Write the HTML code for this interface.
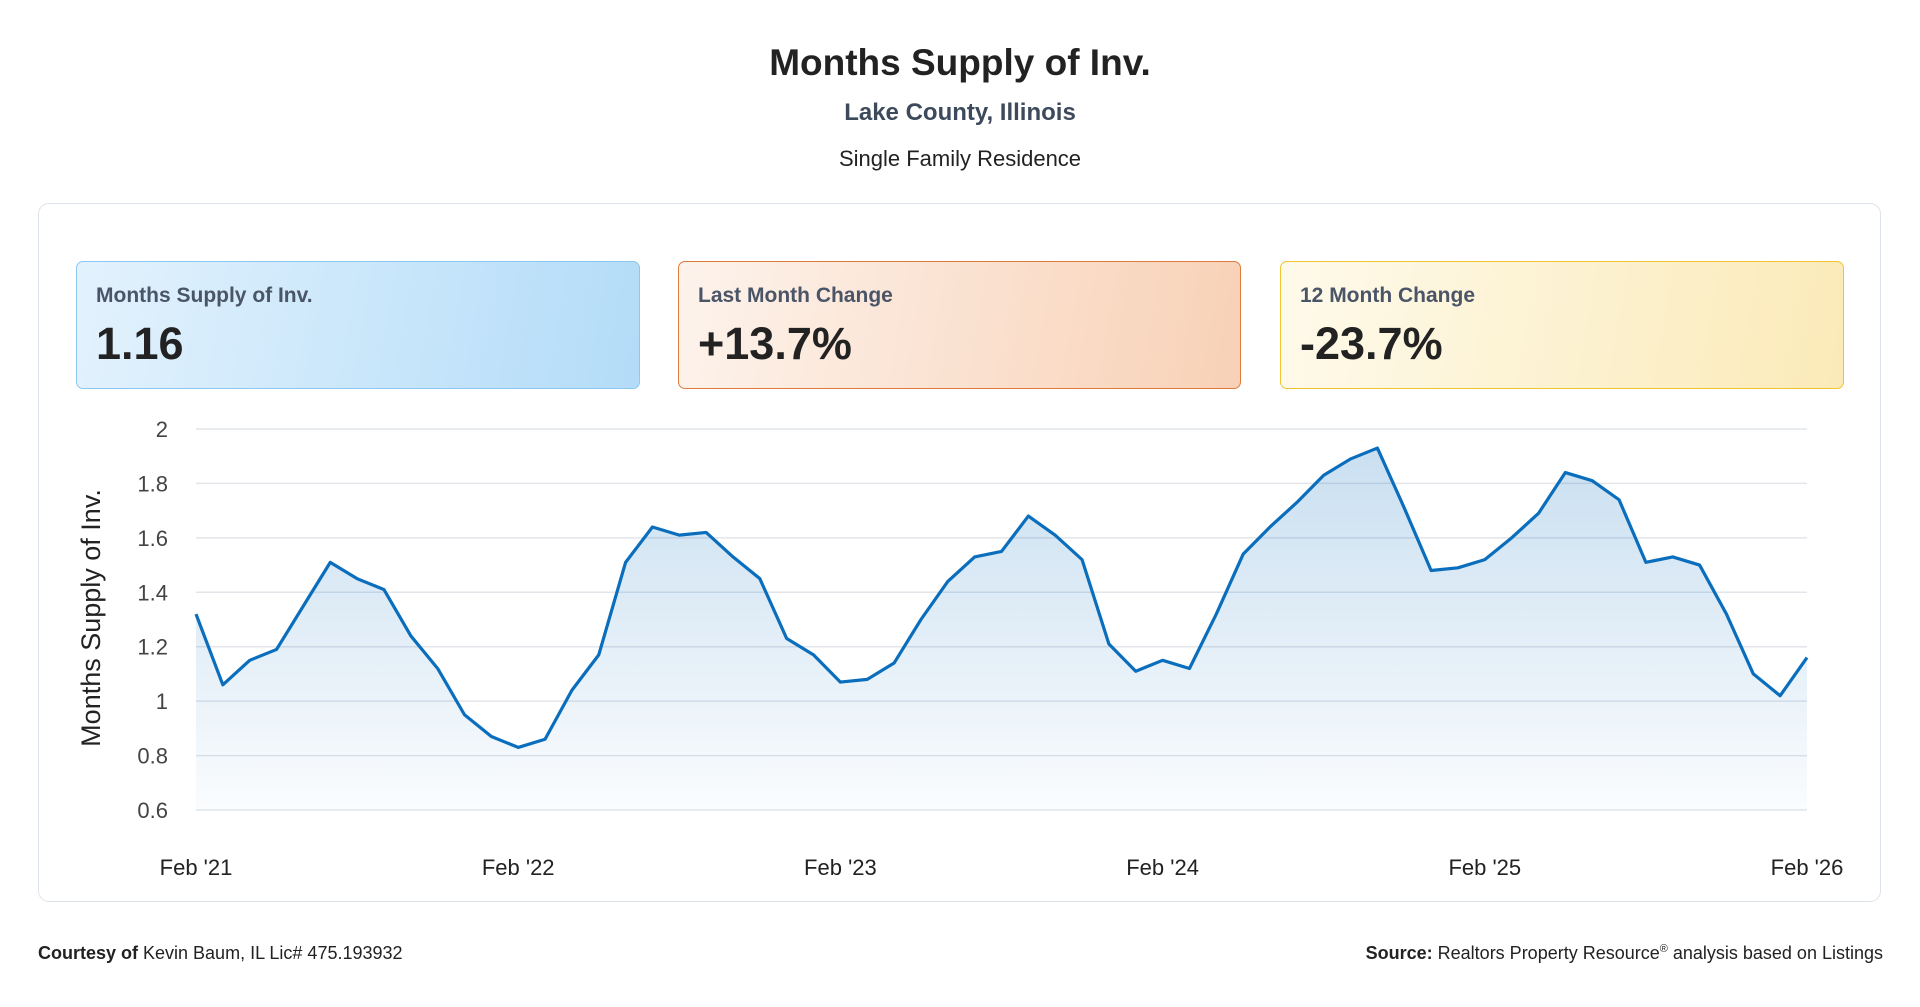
<!DOCTYPE html>
<html><head><meta charset="utf-8"><style>
body{margin:0;width:1920px;height:1007px;background:#fff;font-family:"Liberation Sans",sans-serif;position:relative;overflow:hidden;color:#222}
.abs{position:absolute}
.t{left:0;width:1920px;text-align:center}
.kpi{position:absolute;top:261px;height:128px;border-radius:7px;box-sizing:border-box}
.kl{position:absolute;left:19px;top:22px;font-size:21px;font-weight:bold;color:#4a5568}
.kv{position:absolute;left:19px;top:56px;font-size:45px;font-weight:bold;color:#222}
</style></head><body>
<div class="abs t" style="top:42px;font-size:37px;font-weight:bold;color:#222">Months Supply of Inv.</div>
<div class="abs t" style="top:99px;font-size:24px;font-weight:bold;color:#3d4a5c">Lake County, Illinois</div>
<div class="abs t" style="top:146px;font-size:22px;color:#222">Single Family Residence</div>
<div class="abs" style="left:38px;top:203px;width:1843px;height:699px;border:1.5px solid #dde3ea;border-radius:11px;box-sizing:border-box"></div>
<div class="kpi" style="left:76px;width:564px;border:1.5px solid #8cc8f0;background:linear-gradient(100deg,#e3f2fd,#b3dcf8)"><div class="kl">Months Supply of Inv.</div><div class="kv">1.16</div></div>
<div class="kpi" style="left:678px;width:563px;border:1.5px solid #e07b3c;background:linear-gradient(100deg,#fdf3ec,#f8d1b6)"><div class="kl">Last Month Change</div><div class="kv">+13.7%</div></div>
<div class="kpi" style="left:1280px;width:564px;border:1.5px solid #f0c531;background:linear-gradient(100deg,#fefaeb,#fbeab8)"><div class="kl">12 Month Change</div><div class="kv">-23.7%</div></div>
<svg class="abs" style="left:0;top:0" width="1920" height="1007" id="chart">
<defs><linearGradient id="g" x1="0" y1="0" x2="0" y2="1"><stop offset="0" stop-color="#0a6ebd" stop-opacity="0.22"/><stop offset="1" stop-color="#0a6ebd" stop-opacity="0.02"/></linearGradient></defs>
<g id="grid"></g><g id="area"></g><g id="labels"></g>
<text transform="translate(100,618) rotate(-90)" text-anchor="middle" font-size="27" fill="#222" font-family="Liberation Sans">Months Supply of Inv.</text>
</svg>
<div class="abs" style="left:38px;top:943px;font-size:18px;color:#222"><b>Courtesy of</b> Kevin Baum, IL Lic# 475.193932</div>
<div class="abs" style="right:37px;top:943px;font-size:18px;color:#222"><b>Source:</b> Realtors Property Resource<sup style="font-size:11px">®</sup> analysis based on Listings</div>
<script>
const values=[1.32,1.06,1.15,1.19,1.35,1.51,1.45,1.41,1.24,1.12,0.95,0.87,0.83,0.86,1.04,1.17,1.51,1.64,1.61,1.62,1.53,1.45,1.23,1.17,1.07,1.08,1.14,1.30,1.44,1.53,1.55,1.68,1.61,1.52,1.21,1.11,1.15,1.12,1.32,1.54,1.64,1.73,1.83,1.89,1.93,1.71,1.48,1.49,1.52,1.60,1.69,1.84,1.81,1.74,1.51,1.53,1.50,1.32,1.10,1.02,1.16];
const yTicks=[0.6,0.8,1,1.2,1.4,1.6,1.8,2];
const xTickLabels=["Feb '21","Feb '22","Feb '23","Feb '24","Feb '25","Feb '26"];
const xTickIdx=[0,12,24,36,48,60];
const NS="http://www.w3.org/2000/svg";
const x0=196,x1=1807,yTop=429,yBot=810;
const X=i=>x0+(x1-x0)*i/(values.length-1);
const Y=v=>yBot-(v-0.6)/(2-0.6)*(yBot-yTop);
const grid=document.getElementById('grid'),labs=document.getElementById('labels'),area=document.getElementById('area');
yTicks.forEach(t=>{
 const l=document.createElementNS(NS,'line');
 
 
 l.setAttribute('x1',x0);l.setAttribute('x2',x1);l.setAttribute('y1',Y(t));l.setAttribute('y2',Y(t));
 l.setAttribute('stroke','#e2e5ea');l.setAttribute('stroke-width','1.5');grid.appendChild(l);
 const tx=document.createElementNS(NS,'text');
 
 
 tx.setAttribute('x',168);tx.setAttribute('y',Y(t)+8);tx.setAttribute('text-anchor','end');
 tx.setAttribute('font-size','22');tx.setAttribute('fill','#444');tx.setAttribute('font-family','Liberation Sans');
 tx.textContent=String(t);labs.appendChild(tx);
});
xTickIdx.forEach((i,k)=>{
 const tx=document.createElementNS(NS,'text');
 
 
 tx.setAttribute('x',X(i));tx.setAttribute('y',875);tx.setAttribute('text-anchor','middle');
 tx.setAttribute('font-size','22');tx.setAttribute('fill','#222');tx.setAttribute('font-family','Liberation Sans');
 tx.textContent=xTickLabels[k];labs.appendChild(tx);
});
const pts=values.map((v,i)=>X(i)+','+Y(v)).join(' L');
const a=document.createElementNS(NS,'path');


a.setAttribute('d','M'+X(0)+','+yBot+' L'+pts+' L'+X(values.length-1)+','+yBot+' Z');
a.setAttribute('fill','url(#g)');area.appendChild(a);
const p=document.createElementNS(NS,'path');


p.setAttribute('d','M'+pts);p.setAttribute('fill','none');p.setAttribute('stroke','#0a6ebd');
p.setAttribute('stroke-width','3.2');p.setAttribute('stroke-linejoin','round');area.appendChild(p);
</script>
</body></html>
